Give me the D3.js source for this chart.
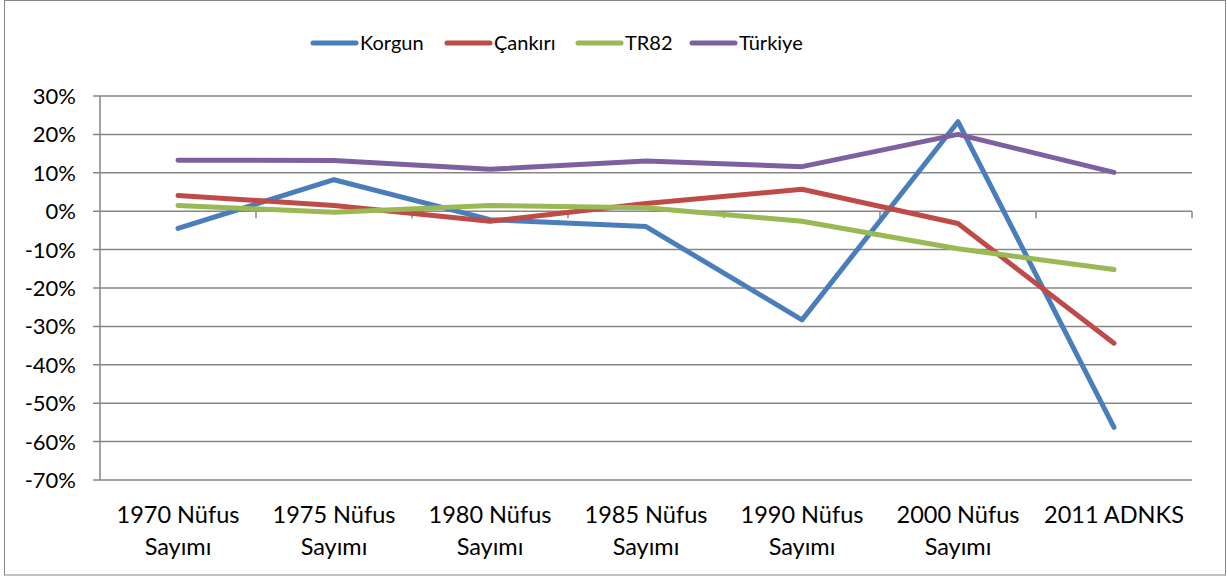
<!DOCTYPE html>
<html>
<head>
<meta charset="utf-8">
<script src="https://cdn.jsdelivr.net/npm/d3@7"></script>
<style>
  body { margin: 0; background: #fff; }
  text { font-family: Lato, "Open Sans", sans-serif; fill: #000; }
</style>
</head>
<body>
<div id="chart"></div>
<script>
// categories and series (percent change)
var categories = ["1970 Nüfus Sayımı", "1975 Nüfus Sayımı", "1980 Nüfus Sayımı", "1985 Nüfus Sayımı",
                  "1990 Nüfus Sayımı", "2000 Nüfus Sayımı", "2011 ADNKS"];
var seriesNames = ["Korgun", "Çankırı", "TR82", "Türkiye"];
var korgun  = [-4.5, 8.2, -2.2, -4.0, -28.3, 23.3, -56.3];
var cankiri = [4.1, 1.5, -2.6, 2.0, 5.7, -3.2, -34.4];
var tr82    = [1.5, -0.3, 1.5, 0.9, -2.6, -9.8, -15.2];
var turkiye = [13.3, 13.2, 10.9, 13.1, 11.6, 20.0, 10.1];
var yTicks = [30, 20, 10, 0, -10, -20, -30, -40, -50, -60, -70];
var colors = ["#4A7EBB", "#BE4B48", "#98B954", "#7D60A0"];

var W = 1227, H = 576;
var margin = {top: 96, right: 35, bottom: 96, left: 100};

var svg = d3.select("#chart").append("svg")
    .attr("width", W)
    .attr("height", H);

// outer frame
svg.append("rect")
    .attr("x", 4.5).attr("y", 0.5)
    .attr("width", W - 6).attr("height", H - 1.5)
    .attr("fill", "none").attr("stroke", "#868686").attr("stroke-width", 1);

var x = d3.scaleBand().domain(categories).range([margin.left, W - margin.right]);
var y = d3.scaleLinear().domain([-70, 30]).range([H - margin.bottom, margin.top]);

// gridlines
svg.append("g").selectAll("line")
    .data(yTicks)
    .enter().append("line")
    .attr("x1", margin.left - 7).attr("x2", W - margin.right)
    .attr("y1", function (d) { return y(d); })
    .attr("y2", function (d) { return y(d); })
    .attr("stroke", "#868686").attr("stroke-width", 1.5);

// y axis line
svg.append("line")
    .attr("x1", margin.left).attr("x2", margin.left)
    .attr("y1", y(30)).attr("y2", y(-70))
    .attr("stroke", "#868686").attr("stroke-width", 1.5);

// y labels
svg.append("g").selectAll("text")
    .data(yTicks)
    .enter().append("text")
    .attr("x", margin.left - 24)
    .attr("y", function (d) { return y(d); })
    .attr("dy", "0.36em")
    .attr("text-anchor", "end")
    .style("font-size", "22px")
    .text(function (d) { return d + "%"; });

// category ticks on the 0 line
var bounds = categories.map(function (c) { return x(c) + x.bandwidth(); });
svg.append("g").selectAll("line")
    .data(bounds)
    .enter().append("line")
    .attr("x1", function (d) { return d; }).attr("x2", function (d) { return d; })
    .attr("y1", y(0)).attr("y2", y(0) + 7)
    .attr("stroke", "#868686").attr("stroke-width", 1.5);

// category labels (two lines)
var catLabels = svg.append("g").selectAll("text")
    .data(categories)
    .enter().append("text")
    .attr("text-anchor", "middle")
    .style("font-size", "23.5px");
catLabels.each(function (c) {
    var parts = c.split(" ");
    var first = parts.length > 2 ? parts.slice(0, 2).join(" ") : c;
    var second = parts.length > 2 ? parts.slice(2).join(" ") : "";
    var cx = x(c) + x.bandwidth() / 2;
    d3.select(this).append("tspan").attr("x", cx).attr("y", 523).text(first);
    if (second) d3.select(this).append("tspan").attr("x", cx).attr("y", 555).text(second);
});

// lines
var allSeries = [korgun, cankiri, tr82, turkiye];
var line = d3.line()
    .x(function (d, i) { return x(categories[i]) + x.bandwidth() / 2; })
    .y(function (d) { return y(d); });

svg.append("g").selectAll("path")
    .data(allSeries)
    .enter().append("path")
    .attr("d", line)
    .attr("fill", "none")
    .attr("stroke", function (d, i) { return colors[i]; })
    .attr("stroke-width", 5)
    .attr("stroke-linecap", "round")
    .attr("stroke-linejoin", "round");

// legend
var legendX = [313, 447, 578, 692];
var legend = svg.append("g").selectAll("g")
    .data(seriesNames)
    .enter().append("g")
    .attr("transform", function (d, i) { return "translate(" + legendX[i] + ",43)"; });
legend.append("line")
    .attr("x1", 0).attr("x2", 43)
    .attr("stroke", function (d, i) { return colors[i]; })
    .attr("stroke-width", 5)
    .attr("stroke-linecap", "round");
legend.append("text")
    .attr("x", 47).attr("dy", "0.36em")
    .style("font-size", "20px")
    .text(function (d) { return d; });
</script>
</body>
</html>
